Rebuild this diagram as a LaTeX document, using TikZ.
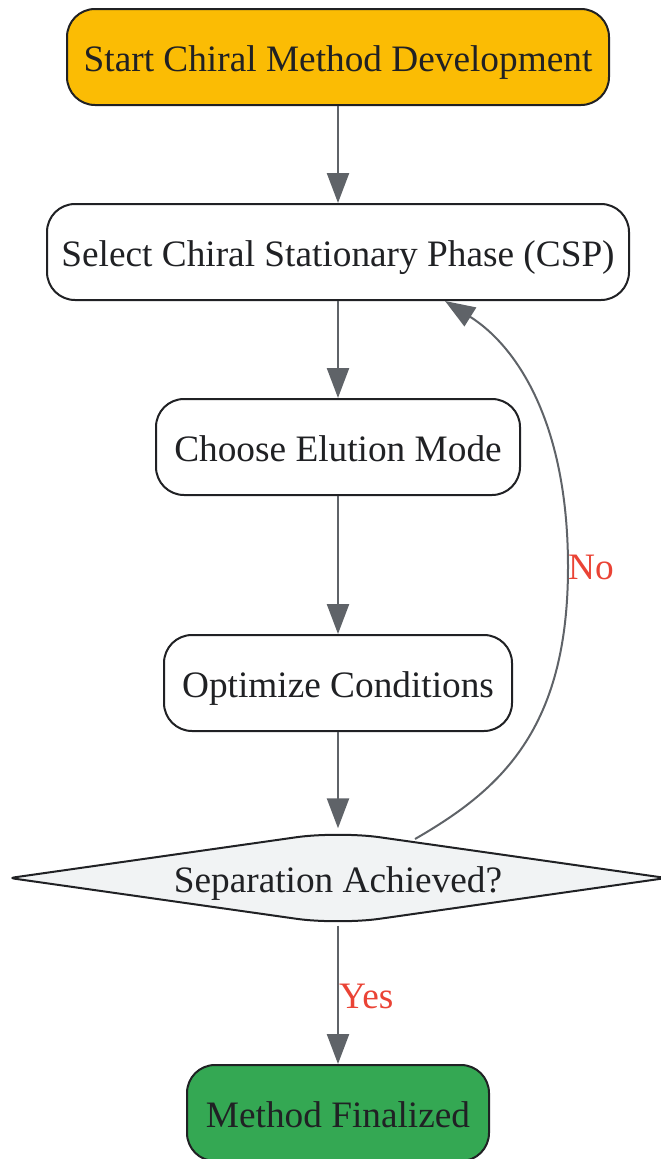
\documentclass[tikz,border=0pt]{standalone}
\usepackage{fontspec}
\setmainfont{Liberation Serif}
\usetikzlibrary{arrows.meta,shapes.geometric,calc,backgrounds}
\definecolor{startfill}{HTML}{FBBC04}
\definecolor{endfill}{HTML}{34A853}
\definecolor{diafill}{HTML}{F1F3F4}
\definecolor{bordercol}{HTML}{202124}
\definecolor{arrowcol}{HTML}{5F6368}
\definecolor{labelcol}{HTML}{EA4335}
\begin{document}
\begin{tikzpicture}[x=1pt,y=1pt,
  every node/.style={font=\fontsize{37.3}{44}\selectfont, text=bordercol},
  stepbox/.style={draw=bordercol, line width=2pt, rounded corners=28pt, minimum height=96pt, inner sep=0pt, fill=white, text height=30pt, text depth=2pt},
  decision/.style={diamond, aspect=7, minimum width=656pt, minimum height=93pt, inner sep=0pt, text height=30pt, text depth=2pt},
  decisionline/.style={draw=bordercol, line width=2pt, fill=diafill},
  flow/.style={draw=arrowcol, line width=2.4pt, -{Triangle[length=30pt,width=22pt]}},
  edgelabel/.style={text=labelcol, inner sep=0pt},
  loopflow/.style={draw=arrowcol, line width=2pt, -{Triangle[length=30pt,width=22pt]}}
]
\useasboundingbox (0,0) rectangle (661,-1159);
\node[stepbox, fill=startfill, minimum width=542pt] (start) at (338,-57) {Start Chiral Method Development};
\node[stepbox, minimum width=582pt] (csp) at (338,-252) {Select Chiral Stationary Phase (CSP)};
\node[stepbox, minimum width=364pt] (mode) at (338,-447) {Choose Elution Mode};
\node[stepbox, minimum width=348pt] (opt) at (338,-683) {Optimize Conditions};
\node[decision] (dec) at (338,-878) {Separation Achieved?};
\node[stepbox, fill=endfill, minimum width=302pt] (fin) at (338,-1113) {Method Finalized};

\begin{scope}[on background layer]
\draw[decisionline] ($(dec.west)!0.5!(dec.north)$)
  [rounded corners=42pt] -- (dec.north) -- ($(dec.north)!0.5!(dec.east)$)
  [rounded corners=5pt] -- (dec.east) -- ($(dec.east)!0.5!(dec.south)$)
  [rounded corners=42pt] -- (dec.south) -- ($(dec.south)!0.5!(dec.west)$)
  [rounded corners=5pt] -- (dec.west) -- cycle;
\end{scope}

\draw[flow] (start) -- (csp);
\draw[flow] (csp) -- (mode);
\draw[flow] (mode) -- (opt);
\draw[flow] (opt) -- ([yshift=3pt]dec.north);
\draw[flow] ([yshift=-1pt]dec.south) -- node[edgelabel, right, yshift=-2pt] (yes) {Yes} (fin);

\coordinate (nostart) at (415,-839);
\coordinate (noend) at (445,-301);
\draw[loopflow] (nostart) .. controls (500,-790) and (568,-730) .. (568,-567)
  coordinate (nomid) .. controls (568,-420) and (515,-345) .. (noend);
\node[edgelabel, anchor=west] (no) at (nomid) {No};
\end{tikzpicture}
\end{document}
